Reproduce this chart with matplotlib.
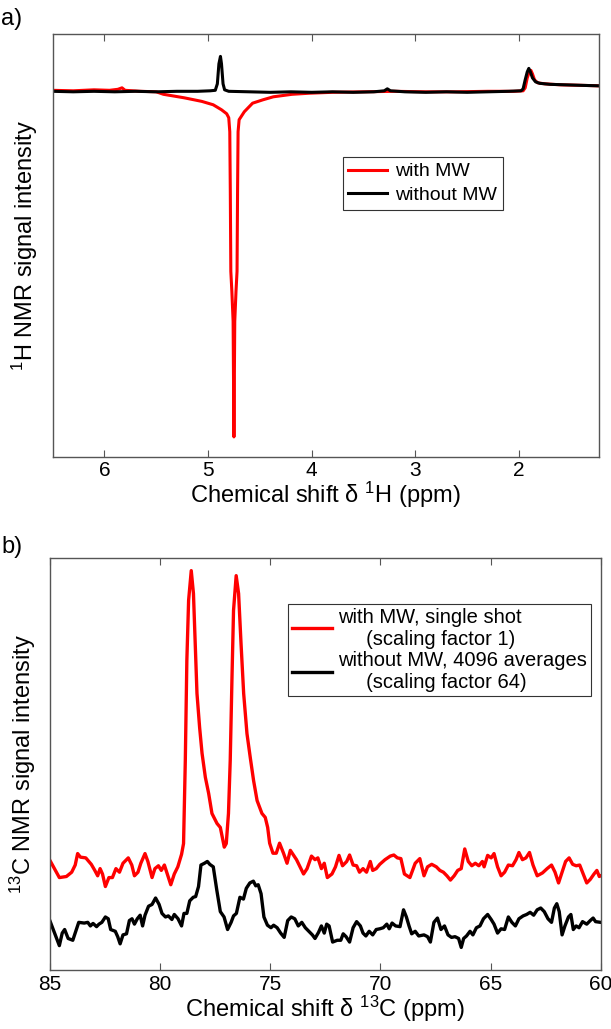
import matplotlib
matplotlib.use('Agg')
import matplotlib.pyplot as plt

plt.rcParams['font.family'] = ['Liberation Sans', 'DejaVu Sans']
plt.rcParams['mathtext.fontset'] = 'custom'
plt.rcParams['mathtext.rm'] = 'Liberation Sans'

# ---- panel a: 1H spectrum (ppm, intensity arb. units) ----
h_ppm_mw = [6.50, 6.30, 6.10, 5.95, 5.87, 5.83, 5.80, 5.65, 5.50, 5.43, 5.23, 5.06,
            4.95, 4.87, 4.82, 4.80, 4.79, 4.785, 4.78, 4.77, 4.758, 4.75, 4.742,
            4.73, 4.72, 4.715, 4.71, 4.70, 4.65, 4.57, 4.47, 4.37, 4.19, 4.02,
            3.80, 3.50, 3.20, 2.90, 2.60, 2.30, 2.05, 1.96, 1.94, 1.92, 1.90,
            1.885, 1.87, 1.85, 1.82, 1.75, 1.60, 1.40, 1.23]
h_int_mw = [1.5, 1.0, 2.0, 1.5, 2.5, 4.0, 1.5, 0.5, 0.0, -2.5, -6.0, -9.6,
            -13.0, -18.0, -22.0, -26.0, -40.0, -100.0, -180.0, -200.0, -230.0, -346.0, -230.0,
            -200.0, -180.0, -100.0, -40.0, -28.0, -20.0, -11.4, -8.0, -5.0, -2.5, -1.4,
            -0.5, 0.0, 0.5, 0.0, 0.0, 0.5, 0.5, 1.0, 4.0, 14.0, 20.0,
            21.5, 18.0, 12.0, 9.0, 8.0, 7.0, 6.5, 6.0]

h_ppm_nomw = [6.50, 6.30, 6.10, 5.90, 5.70, 5.50, 5.30, 5.10, 4.98, 4.93, 4.91, 4.895,
              4.88, 4.87, 4.855, 4.84, 4.80, 4.60, 4.40, 4.20, 4.00, 3.80, 3.60, 3.40,
              3.30, 3.27, 3.24, 3.10, 2.90, 2.70, 2.50, 2.30, 2.10, 1.98, 1.96, 1.94,
              1.92, 1.905, 1.89, 1.87, 1.84, 1.80, 1.70, 1.55, 1.40, 1.23]
h_int_nomw = [0.5, 0.0, 0.5, 0.0, 0.5, 0.0, 0.5, 0.5, 1.0, 1.5, 8.0, 28.0,
              35.5, 28.0, 8.0, 2.0, 0.5, 0.0, -0.5, 0.0, -0.5, 0.0, -0.5, 0.0,
              1.0, 3.0, 1.0, 0.0, -0.5, 0.0, -0.5, 0.0, 0.5, 1.0, 3.0, 12.0,
              20.0, 23.5, 20.0, 14.0, 10.0, 8.5, 7.5, 7.0, 6.5, 6.0]

# ---- panel b: 13C spectrum ----
c_ppm_mw = [85.0, 84.58, 84.26, 84.02, 83.86, 83.75, 83.62, 83.38, 83.13, 82.97, 82.84,
            82.73, 82.62, 82.49, 82.33, 82.17, 82.01, 81.85, 81.69, 81.45, 81.29, 81.17,
            81.01, 80.88, 80.69, 80.56, 80.37, 80.24, 80.08, 79.95, 79.81, 79.68, 79.52,
            79.36, 79.20, 79.03, 78.94, 78.86, 78.79, 78.71, 78.59, 78.49, 78.41, 78.33,
            78.21, 78.10, 77.95, 77.80, 77.65, 77.42, 77.27, 77.09, 77.00, 76.90, 76.82,
            76.74, 76.67, 76.55, 76.44, 76.33, 76.21, 76.06, 75.91, 75.76, 75.60, 75.38,
            75.23, 75.12, 75.03, 74.88, 74.73, 74.58, 74.40, 74.24, 74.09, 73.97, 73.81,
            73.65, 73.49, 73.33, 73.13, 72.97, 72.84, 72.68, 72.55, 72.41, 72.20, 72.04,
            71.88, 71.72, 71.53, 71.40, 71.24, 71.08, 70.95, 70.79, 70.63, 70.46, 70.35,
            70.19, 70.03, 69.79, 69.55, 69.39, 69.23, 69.07, 68.91, 68.66, 68.42, 68.21,
            68.02, 67.86, 67.67, 67.46, 67.30, 67.14, 66.98, 66.82, 66.65, 66.49, 66.33,
            66.17, 66.01, 65.85, 65.69, 65.53, 65.37, 65.29, 65.13, 64.97, 64.84, 64.68,
            64.52, 64.36, 64.19, 64.00, 63.84, 63.71, 63.55, 63.39, 63.23, 63.07, 62.88,
            62.64, 62.43, 62.23, 62.07, 61.91, 61.75, 61.59, 61.43, 61.27, 61.11, 60.95,
            60.79, 60.63, 60.47, 60.30, 60.17, 60.06, 60.0]
c_int_mw = [25.2, 20.5, 20.8, 22.0, 24.0, 27.2, 26.2, 26.0, 24.2, 22.5, 21.0,
            23.0, 21.5, 18.0, 20.5, 20.5, 23.0, 22.0, 24.5, 26.0, 24.0, 21.0,
            22.0, 24.5, 27.2, 25.0, 20.5, 23.0, 23.8, 22.5, 24.0, 21.5, 18.5,
            21.5, 23.5, 27.0, 30.0, 53.2, 81.1, 97.9, 106.2, 99.8, 85.9, 71.9,
            62.4, 55.2, 48.5, 44.0, 38.4, 35.6, 34.5, 29.0, 30.0, 38.4, 53.2,
            76.4, 95.1, 104.8, 99.8, 85.9, 71.9, 60.7, 54.0, 47.6, 42.0, 38.4,
            37.3, 34.5, 30.1, 27.3, 27.3, 30.1, 27.3, 24.5, 28.1, 27.0, 25.5,
            23.5, 21.5, 23.0, 26.5, 25.5, 26.0, 23.0, 24.5, 20.5, 21.5, 23.5,
            26.7, 23.8, 25.0, 26.8, 24.0, 23.8, 22.0, 23.0, 22.0, 25.0, 22.5,
            23.0, 24.2, 25.5, 26.5, 26.8, 26.0, 25.8, 21.5, 20.5, 24.5, 25.8,
            21.0, 23.5, 24.2, 23.5, 22.5, 22.0, 21.0, 19.8, 21.0, 22.5, 23.0,
            28.5, 25.0, 23.8, 24.5, 23.8, 25.0, 23.5, 26.7, 26.0, 27.2, 23.5,
            21.0, 22.0, 24.0, 23.8, 25.5, 27.5, 25.5, 26.0, 27.5, 24.0, 21.0,
            21.8, 23.0, 24.0, 22.0, 19.0, 22.0, 25.0, 26.0, 24.2, 23.8, 24.0,
            21.5, 19.0, 20.0, 21.5, 22.5, 20.8, 21.0]

c_ppm_nomw = [85.0, 84.58, 84.45, 84.34, 84.18, 83.97, 83.86, 83.70, 83.45, 83.29, 83.17,
              83.05, 82.89, 82.78, 82.65, 82.49, 82.36, 82.25, 82.04, 81.93, 81.82, 81.69,
              81.53, 81.40, 81.28, 81.17, 81.04, 80.91, 80.80, 80.69, 80.53, 80.37, 80.21,
              80.05, 79.92, 79.76, 79.63, 79.47, 79.36, 79.19, 79.03, 78.92, 78.79, 78.66,
              78.50, 78.39, 78.26, 78.15, 77.99, 77.86, 77.75, 77.59, 77.43, 77.27, 77.10,
              76.94, 76.78, 76.67, 76.54, 76.38, 76.22, 76.09, 75.93, 75.77, 75.66, 75.55,
              75.42, 75.29, 75.13, 74.97, 74.85, 74.69, 74.53, 74.37, 74.21, 74.05, 73.89,
              73.73, 73.57, 73.41, 73.25, 73.09, 72.97, 72.81, 72.68, 72.55, 72.44, 72.33,
              72.17, 71.96, 71.80, 71.69, 71.56, 71.40, 71.24, 71.08, 70.91, 70.79, 70.66,
              70.51, 70.35, 70.19, 70.03, 69.87, 69.71, 69.60, 69.47, 69.31, 69.11, 68.95,
              68.82, 68.70, 68.58, 68.42, 68.26, 68.02, 67.86, 67.73, 67.57, 67.41, 67.25,
              67.09, 66.93, 66.77, 66.61, 66.45, 66.33, 66.22, 66.09, 65.93, 65.80, 65.64,
              65.48, 65.32, 65.13, 64.97, 64.84, 64.68, 64.52, 64.36, 64.19, 64.03, 63.87,
              63.71, 63.52, 63.36, 63.20, 63.04, 62.88, 62.72, 62.56, 62.39, 62.23, 62.10,
              61.99, 61.88, 61.75, 61.62, 61.46, 61.35, 61.24, 61.11, 60.98, 60.82, 60.63,
              60.47, 60.34, 60.23, 60.0]
c_int_nomw = [8.3, 1.5, 5.0, 6.0, 3.5, 3.0, 5.0, 8.0, 7.8, 8.0, 7.0,
              7.7, 6.8, 7.5, 8.0, 9.5, 9.0, 6.0, 5.5, 4.0, 2.0, 4.5,
              4.8, 8.5, 9.0, 7.5, 9.0, 10.0, 7.0, 10.0, 12.5, 13.0, 14.8,
              13.0, 10.5, 9.5, 9.8, 8.8, 10.2, 9.0, 7.0, 10.5, 10.5, 14.0,
              15.0, 15.2, 18.0, 24.0, 24.5, 25.0, 24.2, 23.5, 17.0, 11.0, 9.5,
              6.0, 8.0, 9.8, 10.5, 15.0, 14.5, 17.5, 19.0, 19.5, 18.2, 18.5,
              16.0, 9.5, 7.2, 6.5, 7.2, 6.5, 5.0, 3.8, 8.5, 9.5, 9.0,
              7.0, 8.0, 6.5, 5.5, 4.5, 3.5, 5.2, 7.0, 5.0, 7.5, 7.0,
              2.5, 3.0, 3.0, 4.8, 4.0, 2.5, 6.5, 8.2, 7.0, 5.0, 4.2,
              5.5, 4.5, 6.0, 6.2, 6.5, 7.5, 6.2, 7.8, 7.0, 6.8, 11.5,
              9.5, 7.0, 4.8, 5.5, 4.2, 4.5, 4.0, 2.5, 8.0, 9.2, 6.0,
              7.0, 4.5, 3.8, 4.0, 3.5, 1.0, 3.5, 4.2, 5.5, 4.5, 6.5,
              7.0, 9.0, 10.2, 8.8, 7.5, 5.0, 6.2, 6.0, 9.5, 8.0, 7.0,
              9.0, 9.8, 10.2, 10.8, 10.0, 11.5, 12.0, 11.0, 9.0, 8.0, 12.0,
              13.2, 11.0, 4.5, 7.0, 9.5, 10.2, 6.0, 7.0, 6.5, 8.2, 7.5,
              8.5, 9.2, 8.2, 8.0]

h_ticks = [6, 5, 4, 3, 2]
c_ticks = [85, 80, 75, 70, 65, 60]

fig = plt.figure(figsize=(6.11, 10.29), dpi=100)
ax1 = fig.add_axes([0.086, 0.556, 0.894, 0.411])
ax2 = fig.add_axes([0.082, 0.057, 0.901, 0.401])

spine_col = '#555555'
for ax in (ax1, ax2):
    for s in ax.spines.values():
        s.set_color(spine_col)
        s.set_linewidth(1.0)
    ax.tick_params(axis='x', direction='in', top=True, length=5, width=0.8,
                   color=spine_col, labelsize=15, pad=3)
    ax.tick_params(axis='y', left=False, labelleft=False)

ax1.plot(h_ppm_mw, h_int_mw, color='#ff0000', lw=2.2, label='with MW')
ax1.plot(h_ppm_nomw, h_int_nomw, color='black', lw=2.2, label='without MW')
ax1.set_xlim(6.5, 1.23)
ax1.set_ylim(-366, 58)
ax1.set_xticks(h_ticks)
ax1.set_xlabel(r'Chemical shift δ $\mathregular{^1}$H (ppm)', fontsize=17, labelpad=0)
ax1.set_ylabel(r'$\mathregular{^1}$H NMR signal intensity', fontsize=17, labelpad=9)
leg1 = ax1.legend(loc='upper left', bbox_to_anchor=(0.531, 0.709), borderaxespad=0,
                  fontsize=14, fancybox=False, framealpha=1, edgecolor='#333333',
                  handlelength=2.0, handletextpad=0.4, borderpad=0.3, labelspacing=0.3)
leg1.get_frame().set_linewidth(0.8)

ax2.plot(c_ppm_mw, c_int_mw, color='#ff0000', lw=2.4,
         label='with MW, single shot\n     (scaling factor 1)')
ax2.plot(c_ppm_nomw, c_int_nomw, color='black', lw=2.4,
         label='without MW, 4096 averages\n     (scaling factor 64)')
ax2.set_xlim(85, 60)
ax2.set_ylim(-5.4, 109.8)
ax2.set_xticks(c_ticks)
ax2.set_xlabel(r'Chemical shift δ $\mathregular{^{13}}$C (ppm)', fontsize=17, labelpad=0)
ax2.set_ylabel(r'$\mathregular{^{13}}$C NMR signal intensity', fontsize=17, labelpad=9)
leg2 = ax2.legend(loc='upper left', bbox_to_anchor=(0.432, 0.889), borderaxespad=0,
                  fontsize=14.5, fancybox=False, framealpha=1, edgecolor='#333333',
                  handlelength=2.0, handletextpad=0.3, borderpad=0.2, labelspacing=0.1)
leg2.get_frame().set_linewidth(0.8)

fig.text(0.002, 0.982, 'a)', fontsize=17, va='center', ha='left')
fig.text(0.002, 0.468, 'b)', fontsize=17, va='center', ha='left')

fig.savefig('out.png', dpi=100)
